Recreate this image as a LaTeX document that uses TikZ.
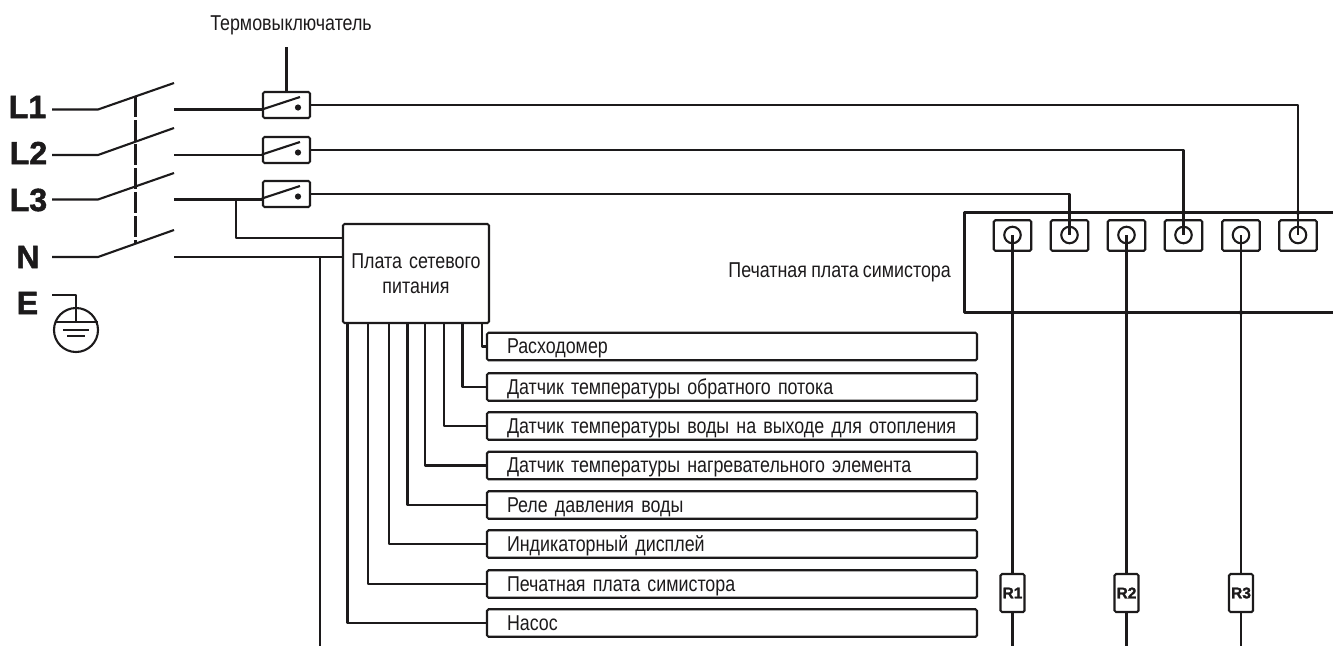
\documentclass[tikz,border=0pt]{standalone}
\usepackage{fontspec}
\setmainfont{Liberation Sans}
\newfontfamily\narrowfont[FakeStretch=0.83,WordSpace=0.85]{Liberation Sans}
\newfontfamily\heavyfont[BoldFeatures={FakeBold=1.6}]{Liberation Sans}
\definecolor{ink}{HTML}{1C1A1B}
\tikzset{
  wire/.style={draw=ink,line width=2.1pt,line join=round},
  boxshape/.style={draw=ink,line width=2.1pt,rounded corners=1.5pt,inner sep=0pt},
  rowbox/.style={boxshape,minimum width=490,minimum height=27.5,text width=450,align=left,
    font=\narrowfont\fontsize{21.5}{21.5}\selectfont,text=ink,text height=17,text depth=3},
  thermo/.style={boxshape,minimum width=47,minimum height=26},
  terminal/.style={boxshape,minimum width=37.5,minimum height=30.5},
  ring/.style={circle,draw=ink,line width=2.1pt,minimum size=16.5,inner sep=0pt},
  rbox/.style={boxshape,minimum width=24,minimum height=38,font=\heavyfont\bfseries\fontsize{15.5}{15.5}\selectfont,text=ink},
  phase/.style={font=\heavyfont\bfseries\fontsize{32}{32}\selectfont,text=ink,inner sep=0pt,anchor=center},
  plain label/.style={font=\narrowfont\fontsize{21.5}{24}\selectfont,text=ink,inner sep=0pt,align=center},
  tap/.style={circle,fill=ink,inner sep=0pt,minimum size=4.5}
}
\begin{document}
\begin{tikzpicture}[x=1pt,y=-1pt]
\useasboundingbox (0,0) rectangle (1333,646);
\fill[white] (0,0) rectangle (1333,646);

% texts
\node[plain label] (ttl) at (291,25) {Термовыключатель};
\node[phase] (l1) at (27.5,107) {L1};
\node[phase] (l2) at (28.5,153) {L2};
\node[phase] (l3) at (28.5,200) {L3};
\node[phase] (ln) at (28,257) {N};
\node[phase] (le) at (27.5,303) {E};

% thermal switches
\node[thermo] (th1) at (286.5,105) {};
\node[thermo] (th2) at (286.5,150) {};
\node[thermo] (th3) at (286.5,194) {};
\foreach \t in {th1,th2,th3}{
  \draw[wire] (\t.west) ++(0,4.5) -- ++(38,-12.5);
  \fill[ink] (\t.center) ++(11.5,2.5) circle (3.1);
}
\draw[wire] (th1.north) -- ++(0,-44);

% mains switches
\coordinate (a1) at (52,109.5); \coordinate (a1k) at (98,109.5); \coordinate (a1t) at (174,83);
\coordinate (a2) at (52,155);   \coordinate (a2k) at (98,155);   \coordinate (a2t) at (174,128);
\coordinate (a3) at (52,199.5); \coordinate (a3k) at (98,199.5); \coordinate (a3t) at (174,173);
\coordinate (a4) at (52,257);   \coordinate (a4k) at (98,257);   \coordinate (a4t) at (174,230);
\draw[wire] (a1) -- (a1k) -- (a1t);
\draw[wire] (a2) -- (a2k) -- (a2t);
\draw[wire] (a3) -- (a3k) -- (a3t);
\draw[wire] (a4) -- (a4k) -- (a4t);
\coordinate (gangt) at (135.5,96);
\coordinate (gangb) at (135.5,243);
\draw[wire,dash pattern=on 21pt off 3pt] (gangt) -- (gangb);

% power board
\node[boxshape,minimum width=146,minimum height=99,font=\narrowfont\fontsize{21.5}{24.5}\selectfont,
      text=ink,align=center,text width=144] (pb) at (416,273.5) {Плата сетевого\\питания};

% contacts to switches and board
\draw[wire] (174,109.5) -- (th1.west |- 174,109.5);
\draw[wire] (174,155) -- (th2.west |- 174,155);
\draw[wire] (174,199.5) -- (th3.west |- 174,199.5);
\draw[wire] (174,257) -- (pb.west |- 174,257);
\draw[wire] (236,199.5) |- (pb.west |- 174,238);
\draw[wire] (320,257) -- (320,646);

% earth
\node[circle,draw=ink,line width=2.1pt,minimum size=44,inner sep=0pt] (gnd) at (76,330) {};
\draw[wire] (52,295) -| (gnd.center |- 174,322);
\draw[wire] (54.5,322) -- (97.5,322);
\draw[wire] (63,330) -- (89,330);
\draw[wire] (67,336) -- (85,336);

% rows
\node[rowbox] (r1) at (732,346.5) {Расходомер};
\node[rowbox] (r2) at (732,387) {Датчик температуры обратного потока};
\node[rowbox] (r3) at (732,426) {Датчик температуры воды на выходе для отопления};
\node[rowbox] (r4) at (732,465.5) {Датчик температуры нагревательного элемента};
\node[rowbox] (r5) at (732,505) {Реле давления воды};
\node[rowbox] (r6) at (732,544) {Индикаторный дисплей};
\node[rowbox] (r7) at (732,584) {Печатная плата симистора};
\node[rowbox] (r8) at (732,623) {Насос};
\draw[wire] (pb.south west) ++(140,0) |- (r1.west);
\draw[wire] (pb.south west) ++(120.5,0) |- (r2.west);
\draw[wire] (pb.south west) ++(102,0) |- (r3.west);
\draw[wire] (pb.south west) ++(83,0) |- (r4.west);
\draw[wire] (pb.south west) ++(65.5,0) |- (r5.west);
\draw[wire] (pb.south west) ++(47,0) |- (r6.west);
\draw[wire] (pb.south west) ++(26,0) |- (r7.west);
\draw[wire] (pb.south west) ++(5.5,0) |- (r8.west);

% triac board
\draw[wire] (1333,212.5) -- (964.5,212.5) -- (964.5,312.5) -- (1333,312.5);
\node[plain label,anchor=east] (tb) at (951,272) {Печатная плата симистора};
\foreach \n/\x in {1/1012.5,2/1069.5,3/1126.5,4/1183.5,5/1241,6/1298}{
  \node[terminal] (t\n) at (\x,235.5) {};
  \node[ring] (c\n) at (\x,235) {};
}
\draw[wire] (th1.east) -| (c6.center);
\draw[wire] (th2.east) -| (c4.center);
\draw[wire] (th3.east) -| (c2.center);
\node[tap] at (c2 |- 0,212.5) {};
\node[tap] at (c4 |- 0,212.5) {};
\node[tap] at (c6 |- 0,212.5) {};

% heaters
\node[rbox] (h1) at (1012.5,593) {R1};
\node[rbox] (h2) at (1126.5,593) {R2};
\node[rbox] (h3) at (1241,593) {R3};
\foreach \n/\c in {1/c1,2/c3,3/c5}{
  \draw[wire] (\c.center) -- (h\n.north);
  \draw[wire] (h\n.south) -- (h\n.south |- 0,646);
  \node[tap] at (\c |- 0,312.5) {};
}
\end{tikzpicture}
\end{document}
